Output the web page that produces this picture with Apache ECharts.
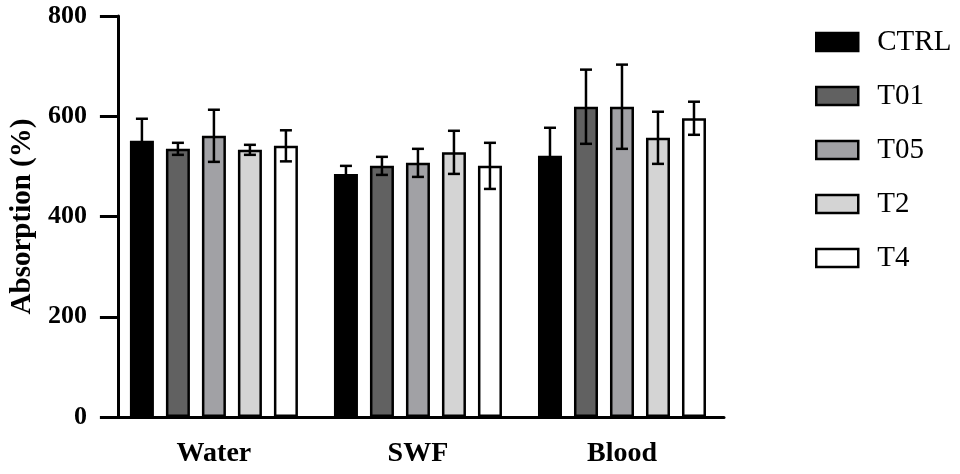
<!DOCTYPE html>
<html>
<head>
<meta charset="utf-8">
<script src="https://cdn.jsdelivr.net/npm/echarts@6/dist/echarts.min.js"></script>
<style>html,body{margin:0;padding:0;background:#fff}#c{width:960px;height:474px}</style>
</head>
<body>
<div id="c"></div>
<script>
const categories = ['Water', 'SWF', 'Blood'];
const seriesNames = ['CTRL', 'T01', 'T05', 'T2', 'T4'];
const colors = ['#000000', '#616161', '#a1a1a5', '#d4d4d4', '#ffffff'];
const CTRL = [551, 485, 521];
const T01 = [535, 501, 619];
const T05 = [561, 507, 619];
const T2 = [533, 528, 557];
const T4 = [541, 501, 596];
const CTRL_err = [44, 16, 56];
const T01_err = [12, 18, 74];
const T05_err = [52, 28, 84];
const T2_err = [10, 43, 52];
const T4_err = [31, 46, 33];
const yTicks = [0, 200, 400, 600, 800];

const means = [CTRL, T01, T05, T2, T4];
const errs = [CTRL_err, T01_err, T05_err, T2_err, T4_err];
const BAR_W = 24, BAR_STEP = 36, CAP = 12;
const FONT = '"Liberation Serif", "Times New Roman", serif';

const series = [];
seriesNames.forEach((name, i) => {
  series.push({
    name: name,
    type: 'bar',
    data: means[i],
    barWidth: BAR_W,
    barGap: '50%',
    itemStyle: { color: colors[i], borderColor: '#000', borderWidth: 2.5 },
    z: 2
  });
});
seriesNames.forEach((name, i) => {
  series.push({
    type: 'custom',
    name: name + '_err',
    data: means[i].map((m, k) => [k, m, errs[i][k]]),
    z: 5,
    renderItem: function (params, api) {
      const k = api.value(0), m = api.value(1), e = api.value(2);
      const hi = api.coord([k, m + e]);
      const lo = api.coord([k, m - e]);
      const x = hi[0] + (i - 2) * BAR_STEP;
      const st = { stroke: '#000', lineWidth: 2.5 };
      return {
        type: 'group',
        children: [
          { type: 'line', shape: { x1: x, y1: hi[1], x2: x, y2: lo[1] }, style: st },
          { type: 'line', shape: { x1: x - CAP / 2, y1: hi[1], x2: x + CAP / 2, y2: hi[1] }, style: st },
          { type: 'line', shape: { x1: x - CAP / 2, y1: lo[1], x2: x + CAP / 2, y2: lo[1] }, style: st }
        ]
      };
    },
    tooltip: { show: false }
  });
});

const chart = echarts.init(document.getElementById('c'));
chart.setOption({
  animation: false,
  backgroundColor: '#fff',
  grid: { left: 109, right: 236, top: 16, bottom: 57 },
  legend: {
    data: seriesNames.map(n => ({ name: n, icon: 'rect' })),
    orient: 'vertical',
    left: 810,
    top: 22,
    itemWidth: 42,
    itemHeight: 18,
    itemGap: 24,
    itemStyle: { borderColor: '#000', borderWidth: 2.5 },
    textStyle: { fontFamily: FONT, fontSize: 29, color: '#000', lineHeight: 30, padding: [0, 0, 0, 14] }
  },
  xAxis: {
    type: 'category',
    data: categories,
    axisLine: { lineStyle: { color: '#000', width: 3 } },
    axisTick: { alignWithLabel: true, length: 18, lineStyle: { color: '#000', width: 3 } },
    axisLabel: { margin: 23, fontFamily: FONT, fontWeight: 'bold', fontSize: 28, color: '#000' }
  },
  yAxis: {
    type: 'value',
    min: yTicks[0],
    max: yTicks[yTicks.length - 1],
    interval: 200,
    offset: -6,
    name: 'Absorption (%)',
    nameLocation: 'middle',
    nameGap: 80,
    nameTextStyle: { fontFamily: FONT, fontWeight: 'bold', fontSize: 29, color: '#000' },
    axisLine: { show: true, lineStyle: { color: '#000', width: 3 } },
    axisTick: { show: true, length: 18, lineStyle: { color: '#000', width: 3 } },
    axisLabel: { margin: 31, fontFamily: FONT, fontWeight: 'bold', fontSize: 26, color: '#000' },
    splitLine: { show: false }
  },
  series: series
});
</script>
</body>
</html>
